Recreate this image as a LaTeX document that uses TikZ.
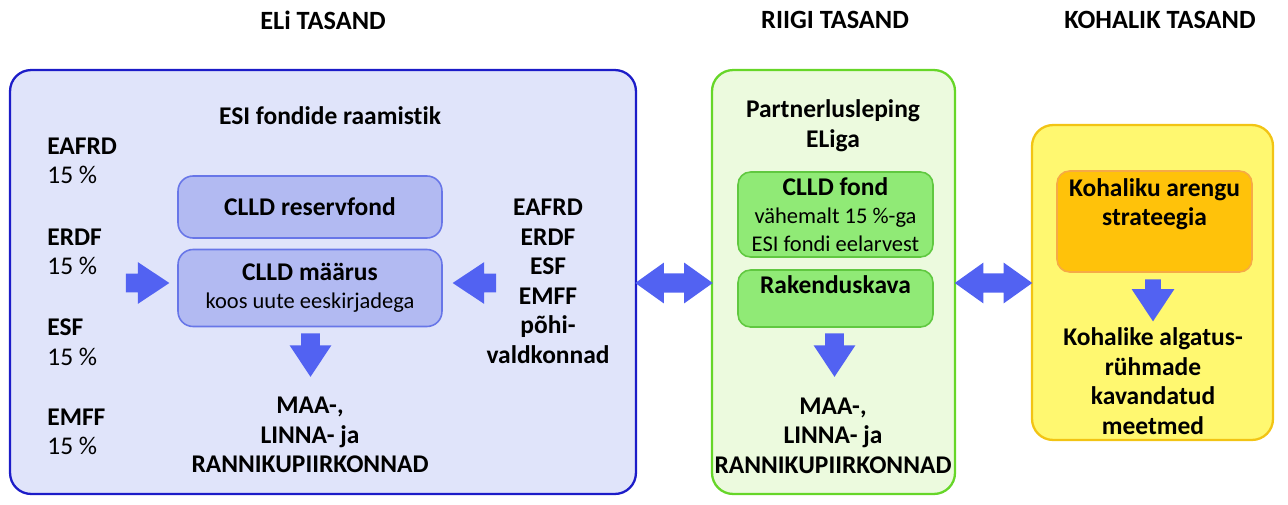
\documentclass[tikz,border=0pt]{standalone}
\usepackage{fontspec}
\setmainfont{Carlito}[Ligatures=NoCommon]
\usetikzlibrary{shapes.arrows}
\definecolor{elifill}{RGB}{224,228,250}
\definecolor{eliline}{RGB}{28,28,200}
\definecolor{bluebox}{RGB}{178,186,242}
\definecolor{blueboxline}{RGB}{104,118,232}
\definecolor{riigfill}{RGB}{236,250,222}
\definecolor{riigline}{RGB}{102,214,40}
\definecolor{greenbox}{RGB}{144,234,118}
\definecolor{greenboxline}{RGB}{96,200,64}
\definecolor{kohfill}{RGB}{255,248,112}
\definecolor{kohline}{RGB}{242,196,20}
\definecolor{orangebox}{RGB}{255,194,10}
\definecolor{orangeline}{RGB}{246,170,70}
\definecolor{arrblue}{RGB}{82,98,242}
\newcommand\subline[1]{{\fontsize{12.8}{15.9}\selectfont\mdseries #1}}
\begin{document}
\begin{tikzpicture}[x=0.02cm,y=-0.02cm,
  txt/.style={font=\fontsize{14.5}{16.8}\selectfont\bfseries,align=center,inner sep=0pt},
  head/.style={txt,font=\fontsize{15}{17}\selectfont\bfseries},
  bigbox/.style={draw,line width=1.3pt,rounded corners=0.42cm,inner sep=0pt},
  innerblue/.style={txt,draw=blueboxline,fill=bluebox,line width=0.9pt,rounded corners=0.3cm},
  innergreen/.style={txt,draw=greenboxline,fill=greenbox,line width=0.9pt,rounded corners=0.25cm},
  innerorange/.style={txt,draw=orangeline,fill=orangebox,line width=0.9pt,rounded corners=0.25cm},
  blockarr/.style={single arrow,fill=arrblue,anchor=tip,inner xsep=0pt,inner ysep=0.18cm,
    single arrow head extend=0.23cm,single arrow tip angle=67,minimum height=0.87cm},
  dblarr/.style={double arrow,fill=arrblue,inner xsep=0pt,inner ysep=0.184cm,
    double arrow head extend=0.216cm,double arrow tip angle=71,minimum height=1.55cm}]
\useasboundingbox (0,0) rectangle (1288,504);
% level titles
\node[head] (hEli) at (323,20) {ELi TASAND};
\node[head] (hRiigi) at (835,20) {RIIGI TASAND};
\node[head] (hKoh) at (1160,20) {KOHALIK TASAND};
% EL level
\node[bigbox,draw=eliline,fill=elifill,minimum width=12.52cm,minimum height=8.48cm] (eli) at (323,282) {};
\node[txt] (raam) at (330,116) {ESI fondide raamistik};
\node[txt,align=left,anchor=west] (fEafrd) at (47,161) {EAFRD\\\mdseries 15 \%};
\node[txt,align=left,anchor=west] (fErdf) at (47,252) {ERDF\\\mdseries 15 \%};
\node[txt,align=left,anchor=west] (fEsf) at (47,342) {ESF\\\mdseries 15 \%};
\node[txt,align=left,anchor=west] (fEmff) at (47,432) {EMFF\\\mdseries 15 \%};
\node[innerblue,minimum width=5.28cm,minimum height=1.24cm] (reserv) at (310,207) {CLLD reservfond};
\node[innerblue,font=\fontsize{14.5}{15.9}\selectfont\bfseries,minimum width=5.28cm,minimum height=1.54cm] (maarus) at (310,288) {CLLD määrus\\\subline{koos uute eeskirjadega}};
\node[txt] (vald) at (548,281.5) {EAFRD\\ERDF\\ESF\\EMFF\\põhi-\\valdkonnad};
\node[blockarr] (arrIn) at (170,283) {};
\node[blockarr,rotate=180] (arrVald) at (452,283) {};
\node[blockarr,rotate=-90] (arrMaa) at (310.5,377.5) {};
\node[txt] (maa) at (310,435) {MAA-,\\LINNA- ja\\RANNIKUPIIRKONNAD};
% national level
\node[bigbox,draw=riigline,fill=riigfill,minimum width=4.86cm,minimum height=8.48cm] (riigi) at (833.5,282) {};
\node[txt] (partner) at (833,125.5) {Partnerlusleping\\ELiga};
\node[innergreen,font=\fontsize{14.5}{15.9}\selectfont\bfseries,minimum width=3.9cm,minimum height=1.7cm] (fond) at (835.5,214.5) {CLLD fond\\\subline{vähemalt 15 \%-ga}\\\subline{ESI fondi eelarvest}};
\node[innergreen,minimum width=3.9cm,minimum height=1.14cm,
  label={[txt,anchor=north,yshift=-0.12cm]north:Rakenduskava}] (rak) at (835.5,298.5) {};
\node[blockarr,rotate=-90] (arrRak) at (834.5,377.5) {};
\node[txt] (maa2) at (833,435.5) {MAA-,\\LINNA- ja\\RANNIKUPIIRKONNAD};
% local level
\node[bigbox,draw=kohline,fill=kohfill,minimum width=4.82cm,minimum height=6.3cm] (koh) at (1152.5,282.5) {};
\node[innerorange,minimum width=3.9cm,minimum height=2.02cm,
  label={[txt,anchor=north,yshift=-0.16cm]north:Kohaliku arengu\\strateegia}] (strat) at (1154.5,221.5) {};
\node[blockarr,rotate=-90,inner ysep=0.15cm,single arrow head extend=0.27cm,minimum height=0.84cm] (arrStrat) at (1153,322) {};
\node[txt] (meetmed) at (1153,381) {Kohalike algatus-\\rühmade\\kavandatud\\meetmed};
% links between levels
\node[dblarr] (arrER) at (674,283) {};
\node[dblarr] (arrRK) at (993.5,283) {};
\end{tikzpicture}
\end{document}
